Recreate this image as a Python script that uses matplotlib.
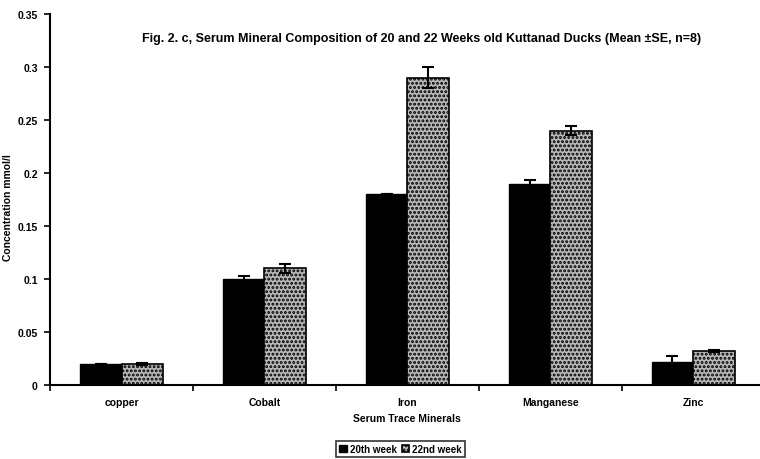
import matplotlib
matplotlib.use("Agg")
import matplotlib.pyplot as plt
import numpy as np
from matplotlib.ticker import FixedLocator, FuncFormatter

minerals = ["copper", "Cobalt", "Iron", "Manganese", "Zinc"]
week20 = [0.020, 0.100, 0.180, 0.190, 0.022]
week20_se = [0.000, 0.003, 0.000, 0.003, 0.005]
week22 = [0.020, 0.110, 0.290, 0.240, 0.032]
week22_se = [0.001, 0.004, 0.010, 0.004, 0.001]
series_names = ["20th week", "22nd week"]

plt.rcParams["font.family"] = ["Liberation Sans", "DejaVu Sans"]
plt.rcParams["font.weight"] = "bold"
plt.rcParams["hatch.linewidth"] = 1.4

fig = plt.figure(figsize=(7.6, 4.6), dpi=100)
ax = fig.add_axes([0.066, 0.161, 0.94, 0.806])

x = np.arange(len(minerals))
w = 0.29
ax.bar(x - w / 2, week20, w, color="black", edgecolor="black",
       yerr=week20_se, ecolor="black", capsize=4, error_kw=dict(lw=1.5, capthick=1.5),
       label=series_names[0])
ax.bar(x + w / 2, week22, w, color="#b8b8b8", edgecolor="black", hatch="....",
       linewidth=1.2,
       yerr=week22_se, ecolor="black", capsize=4, error_kw=dict(lw=1.5, capthick=1.5),
       label=series_names[1])

ax.set_xlim(-0.5, len(minerals) - 0.5)
ax.set_ylim(0, 0.35)
ax.yaxis.set_major_locator(FixedLocator(np.arange(0, 0.351, 0.05)))
ax.yaxis.set_major_formatter(FuncFormatter(lambda v, p: "0" if abs(v) < 1e-9 else f"{v:.2f}".rstrip("0")))
ax.set_xticks(x)
ax.set_xticklabels(minerals)
ax.set_xticks(np.arange(-0.5, len(minerals), 1.0), minor=True)
ax.tick_params(axis="x", which="major", length=0, labelsize=7.5, pad=9)
ax.tick_params(axis="x", which="minor", length=4, width=1.2, direction="out")
ax.tick_params(axis="y", length=4, width=1.2, direction="out", labelsize=7.5, pad=5)
for lab in ax.get_xticklabels() + ax.get_yticklabels():
    lab.set_fontweight("bold")

for s in ("top", "right"):
    ax.spines[s].set_visible(False)
for s in ("left", "bottom"):
    ax.spines[s].set_linewidth(1.5)

ax.set_ylabel("Concentration mmol/l", fontsize=7.5, fontweight="bold", labelpad=3)
ax.yaxis.set_label_coords(-0.052, 0.48)
ax.set_xlabel("Serum Trace Minerals", fontsize=7.5, fontweight="bold", labelpad=4)
ax.set_title("Fig. 2. c, Serum Mineral Composition of 20 and 22 Weeks old Kuttanad Ducks (Mean \u00b1SE, n=8)",
             fontsize=9, fontweight="bold", y=0.905, x=0.52)

leg = fig.legend(loc="center", bbox_to_anchor=(0.527, 0.022), ncol=2, fontsize=7,
                 frameon=True, fancybox=False, edgecolor="black", handlelength=0.8,
                 handleheight=0.8, handletextpad=0.3, columnspacing=0.5,
                 borderpad=0.3, borderaxespad=0)
leg.get_frame().set_linewidth(1.2)
for t in leg.get_texts():
    t.set_fontweight("bold")

fig.savefig("out.png", dpi=100)
